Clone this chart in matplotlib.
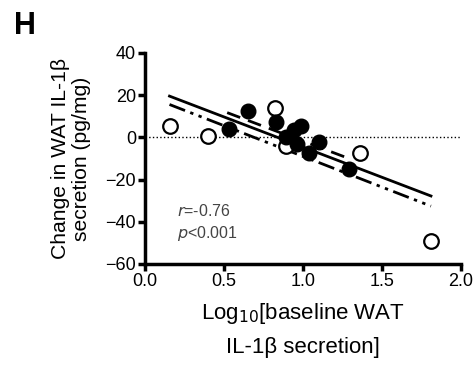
import matplotlib
matplotlib.use('Agg')
import matplotlib.pyplot as plt
import numpy as np

plt.rcParams['font.family'] = ['Liberation Sans', 'DejaVu Sans']

# open circles
open_x = [0.16, 0.40, 0.82, 0.89, 1.36, 1.81]
open_y = [5.5, 0.8, 13.7, -4.0, -7.3, -49.0]
# filled circles
filled_x = [0.53, 0.65, 0.83, 0.89, 0.94, 0.985, 0.96, 1.04, 1.10, 1.29]
filled_y = [3.8, 12.5, 7.4, 0.3, 3.5, 5.5, -3.2, -7.6, -2.1, -15.2]

# regression lines: (x start, x end, slope, intercept)
fit_all = (0.155, 1.81, -28.6, 24.0)
fit_open = (0.155, 1.81, -29.1, 20.1)
fit_filled = (0.52, 1.29, -28.2, 26.4)

fig = plt.figure(figsize=(4.73, 3.66), dpi=100)
ax = fig.add_axes([0.3066, 0.2787, 0.668, 0.5765])

ax.axhline(0, color='black', linestyle=':', linewidth=1.0, zorder=1)

def draw_fit(fit, **kw):
    x0, x1, m, b = fit
    xs = np.array([x0, x1])
    ax.plot(xs, m * xs + b, color='black', linewidth=2.0, zorder=2, **kw)

draw_fit(fit_all, linestyle='-')
draw_fit(fit_open, linestyle=(0, (6, 2, 1.2, 2, 1.2, 2)))
draw_fit(fit_filled, linestyle=(0, (5, 3)))

# open first so the filled ones sit on top
ax.plot(open_x, open_y, 'o', markerfacecolor='white', markeredgecolor='black',
        markeredgewidth=1.6, markersize=10.5, zorder=3)
ax.plot(filled_x, filled_y, 'o', color='black', markersize=10.5, zorder=4)

ax.set_xlim(0, 2.0)
ax.set_ylim(-60, 40)
ax.set_xticks([0.0, 0.5, 1.0, 1.5, 2.0])
ax.set_xticklabels(['0.0', '0.5', '1.0', '1.5', '2.0'])
ax.set_yticks([-60, -40, -20, 0, 20, 40])

for s in ['top', 'right']:
    ax.spines[s].set_visible(False)
for s in ['left', 'bottom']:
    ax.spines[s].set_linewidth(2.5)
ax.tick_params(width=2.5, length=5, labelsize=13, pad=1.5)

ax.set_ylabel('Change in WAT IL-1β\nsecretion (pg/mg)', fontsize=15.2, labelpad=10,
              linespacing=1.15)
ax.set_xlabel('Log$_{10}$[baseline WAT\nIL-1β secretion]', fontsize=16,
              labelpad=8, linespacing=1.65)

ax.text(0.2, -35, r'$\it{r}$=-0.76', fontsize=11.5, color='#444444', va='center')
ax.text(0.2, -45.5, r'$\it{p}$<0.001', fontsize=11.5, color='#444444', va='center')

fig.text(0.053, 0.93, 'H', fontsize=22, fontweight='bold', va='center', ha='center')

fig.savefig('out.png', dpi=100)
